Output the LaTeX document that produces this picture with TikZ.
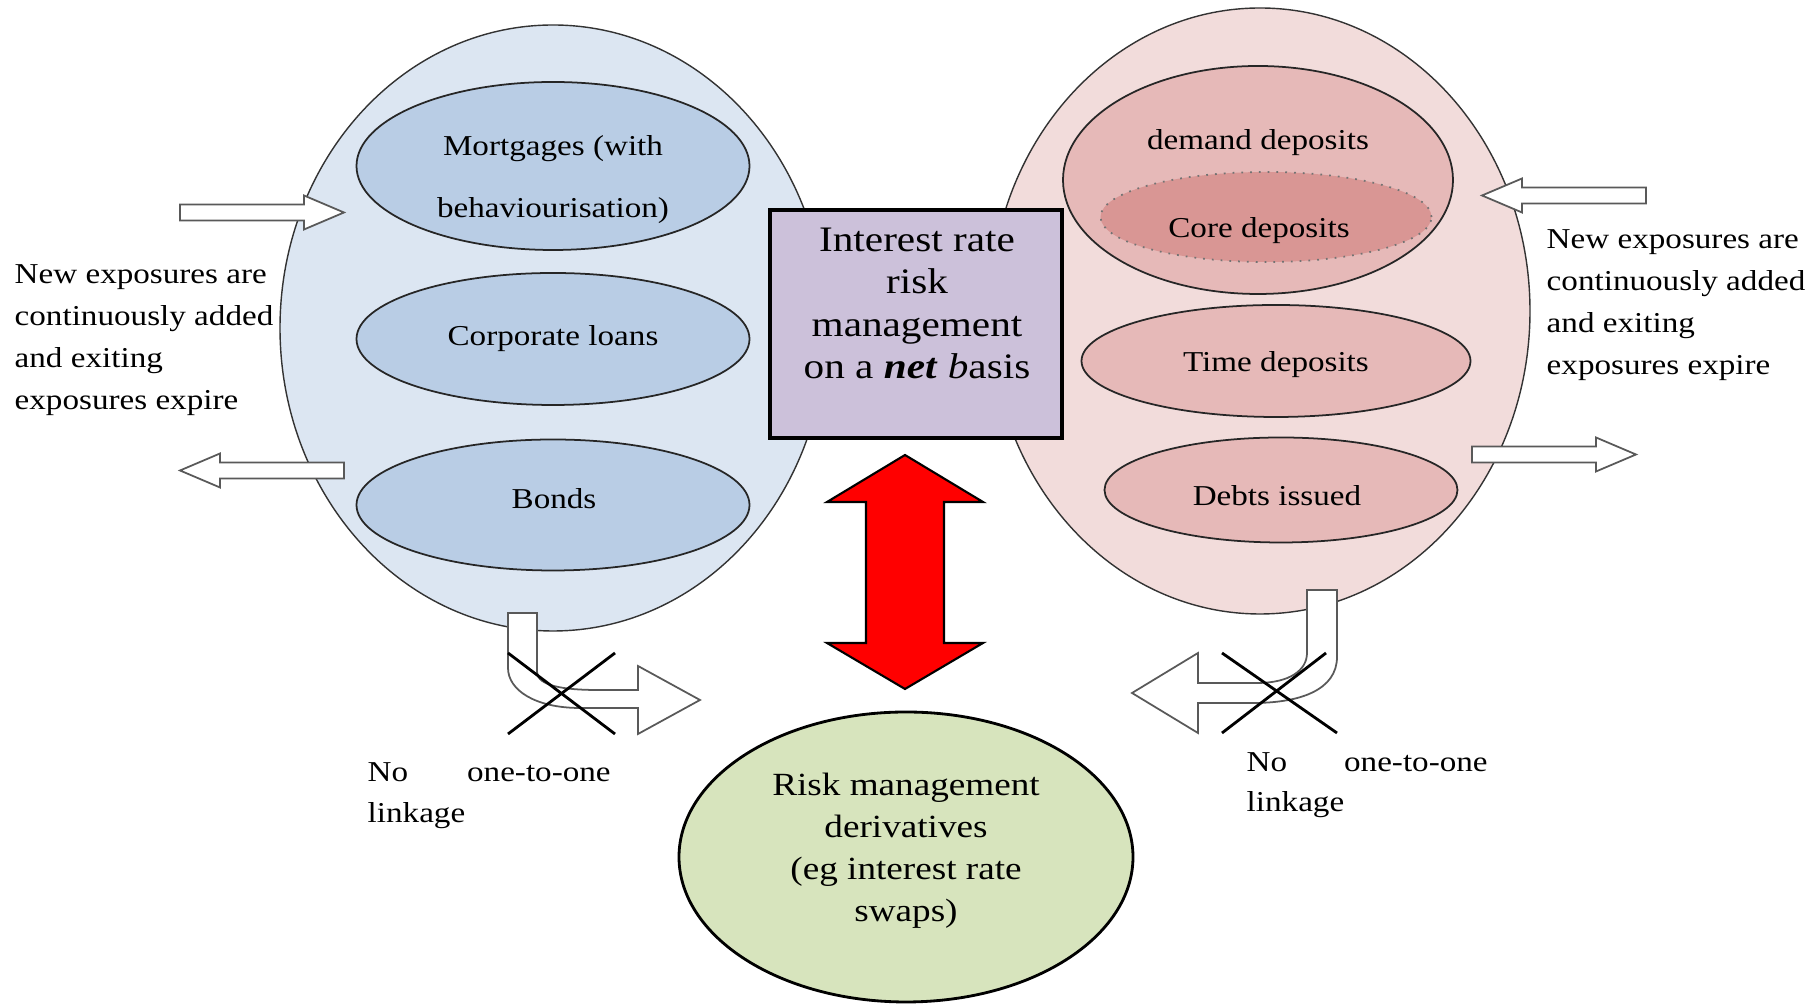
\documentclass[tikz,border=0pt]{standalone}
\usepackage{fontspec}
\setmainfont{Liberation Serif}[FakeStretch=1.15]
\usepackage{tikz}
\usetikzlibrary{shapes.geometric}
\newcommand\txtsize{\fontsize{8.2}{11.95}\selectfont}
\newcommand\boxsize{\fontsize{10.2}{12.1}\selectfont}
\newcommand\hedgesize{\fontsize{9.2}{12}\selectfont}

\definecolor{assetsky}{HTML}{DCE6F2}
\definecolor{assetfill}{HTML}{B9CDE5}
\definecolor{liabsky}{HTML}{F2DCDB}
\definecolor{liabfill}{HTML}{E6B9B8}
\definecolor{corefill}{HTML}{D99694}
\definecolor{netfill}{HTML}{CCC1DA}
\definecolor{hedgefill}{HTML}{D7E4BD}

\tikzset{
  hollowarrow/.style={draw=black!65,fill=white,line width=0.5pt,line join=miter},
  redfill/.style={draw=black,fill=red,line width=0.6pt,line join=miter},
  whitearrow/.pic={\draw[hollowarrow] (0,-8) -- (124,-8) -- (124,-17) -- (164,0) -- (124,17) -- (124,8) -- (0,8) -- cycle;},
  bothways/.pic={\draw[redfill] (0,-117) -- (78,-70) -- (39,-70) -- (39,71) -- (78,71) -- (0,117) -- (-78,71) -- (-39,71) -- (-39,-70) -- (-78,-70) -- cycle;}
}

\begin{document}
\begin{tikzpicture}[x=0.1mm,y=-0.1mm,
  pool/.style={ellipse,draw=black!80,line width=0.4pt,inner sep=0pt},
  book/.style={ellipse,draw=black!85,line width=0.5pt,inner sep=0pt,font=\txtsize},
  txt/.style={inner sep=0pt,align=center,font=\txtsize},
  netbox/.style={rectangle,draw=black,line width=1.1pt,fill=netfill,inner sep=0pt},
  hedge/.style={ellipse,draw=black,line width=0.8pt,fill=hedgefill,inner sep=0pt},
  cross/.style={draw=black,line width=0.8pt},
  ]
  \useasboundingbox (0,0) rectangle (1819,1005);

  % the two books
  \node[pool,fill=assetsky,minimum width=54.6mm,minimum height=60.6mm] (assets) at (553,328) {};
  \node[pool,fill=liabsky,minimum width=54mm,minimum height=60.6mm] (liabs) at (1260,311) {};

  \node[book,fill=assetfill,minimum width=39.3mm,minimum height=16.8mm] (mortg) at (553,166) {};
  \node[txt,font=\fontsize{8.2}{17.6}\selectfont] (mortgtext) at (553,180) {Mortgages (with\\behaviourisation)};
  \node[book,fill=assetfill,minimum width=39.3mm,minimum height=13.2mm] (corp) at (553,339) {Corporate loans};
  \node[book,fill=assetfill,minimum width=39.3mm,minimum height=13.1mm] (bonds) at (553,505) {};
  \node[txt] (bondstext) at (554,499) {Bonds};

  \node[book,fill=liabfill,minimum width=39mm,minimum height=22.8mm] (demand) at (1258,180) {};
  \node[txt] (demandtext) at (1258,143) {demand deposits};
  \node[book,fill=corefill,draw=black!55,dotted,minimum width=33.1mm,minimum height=9mm] (core) at (1266,217) {};
  \node[txt] (coretext) at (1259,231) {Core deposits};
  \node[book,fill=liabfill,minimum width=38.9mm,minimum height=11.2mm] (time) at (1276,361) {};
  \node[txt] (timetext) at (1276,365) {Time deposits};
  \node[book,fill=liabfill,minimum width=35.3mm,minimum height=10.5mm] (debts) at (1281,490) {};
  \node[txt] (debtstext) at (1277,496) {Debts issued};

  % net management and hedge
  \node[netbox,minimum width=29.2mm,minimum height=22.8mm] (irrm) at (916,324) {};
  \node[txt,font=\boxsize] (irrmtext) at (917,303.5) {Interest rate\\risk\\management\\on a \textbf{\textit{net}} \textit{b}asis};
  \node[hedge,minimum width=45.4mm,minimum height=29mm] (rmd) at (906,857) {};
  \node[txt,font=\hedgesize] (rmdtext) at (906,850.5) {Risk management\\derivatives\\(eg interest rate\\swaps)};
  \pic at (905,572) {bothways};

  % flows in and out
  \node[txt,align=left,anchor=west] (flowL) at (14,340) {New exposures are\\continuously added\\and exiting\\exposures expire};
  \node[txt,align=left,anchor=west] (flowR) at (1546,305) {New exposures are\\continuously added\\and exiting\\exposures expire};
  \pic at (180,212.5) {whitearrow};
  \pic[rotate=180] at (344,470.5) {whitearrow};
  \pic[rotate=180] at (1646,195.5) {whitearrow};
  \pic at (1472,454.5) {whitearrow};

  % no one-to-one linkage
  \draw[hollowarrow] (508,613) -- (537,613) -- (537,672) .. controls (537,686) and (565,690) .. (597,690)
    -- (638,690) -- (638,666) -- (700,700) -- (638,734) -- (638,708) -- (580,708)
    .. controls (535,708) and (508,690) .. (508,668) -- cycle;
  \draw[hollowarrow] (1307,590) -- (1337,590) -- (1337,657) .. controls (1337,690) and (1300,703) .. (1253,703)
    -- (1198,703) -- (1198,733) -- (1132,693) -- (1198,653) -- (1198,683) -- (1257,683)
    .. controls (1290,683) and (1307,670) .. (1307,653) -- cycle;
  \draw[cross] (508,653) -- (615,734) (615,653) -- (508,734);
  \draw[cross] (1222,653) -- (1337,733) (1326,653) -- (1222,733);
  \node[txt,align=left,anchor=west,font=\fontsize{8.2}{11.7}\selectfont] (nolinkL) at (367,796) {\makebox[24.3mm][l]{No\hfill one-to-one}\\linkage};
  \node[txt,align=left,anchor=west,font=\fontsize{8.2}{11.5}\selectfont] (nolinkR) at (1246,785) {\makebox[24.1mm][l]{No\hfill one-to-one}\\linkage};
\end{tikzpicture}
\end{document}
